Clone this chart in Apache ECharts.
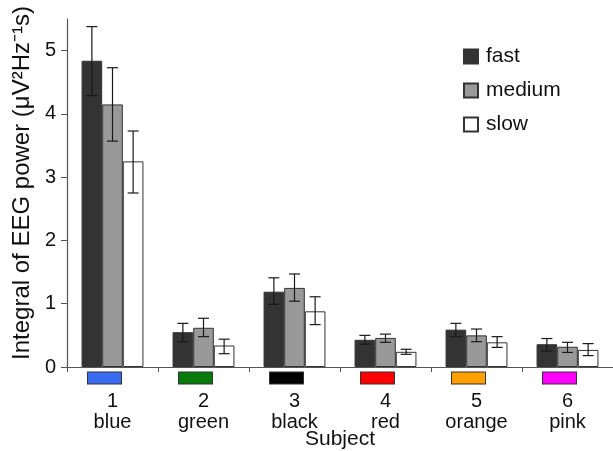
<!DOCTYPE html>
<html>
<head>
<meta charset="utf-8">
<script src="https://cdn.jsdelivr.net/npm/echarts@6/dist/echarts.min.js"></script>
<style>html,body{margin:0;padding:0;background:#fff;}#c{width:613px;height:451px;}</style>
</head>
<body>
<div id="c"></div>
<script>
const categories = ['1', '2', '3', '4', '5', '6'];
const colorNames = ['blue', 'green', 'black', 'red', 'orange', 'pink'];
const swatchColors = ['#3a6cf2', '#087a0c', '#000000', '#ff0000', '#ffa000', '#ff00ff'];
const seriesNames = ['fast', 'medium', 'slow'];
const yTicks = [0, 1, 2, 3, 4, 5];

const fastMean = [4.84, 0.55, 1.19, 0.43, 0.59, 0.36];
const fastLow = [4.29, 0.40, 0.99, 0.36, 0.48, 0.25];
const fastHigh = [5.38, 0.69, 1.41, 0.50, 0.69, 0.45];
const mediumMean = [4.15, 0.62, 1.25, 0.46, 0.50, 0.32];
const mediumLow = [3.57, 0.48, 1.04, 0.39, 0.40, 0.23];
const mediumHigh = [4.73, 0.77, 1.47, 0.52, 0.60, 0.39];
const slowMean = [3.25, 0.34, 0.88, 0.24, 0.39, 0.27];
const slowLow = [2.75, 0.21, 0.67, 0.20, 0.31, 0.18];
const slowHigh = [3.73, 0.44, 1.11, 0.28, 0.48, 0.37];

const means = [fastMean, mediumMean, slowMean];
const lows = [fastLow, mediumLow, slowLow];
const highs = [fastHigh, mediumHigh, slowHigh];
const fills = ['#333333', '#999999', '#ffffff'];
const CAT_GAP = 0.32;
const FONT = '"Liberation Sans", Arial, sans-serif';

const rich = {
  gap: { width: 16, height: 12, lineHeight: 12 },
  num: { fontSize: 20, lineHeight: 34, color: '#111', fontFamily: FONT },
  name: { fontSize: 20, lineHeight: 8, color: '#111', fontFamily: FONT }
};
swatchColors.forEach((c, i) => {
  rich['sw' + i] = { width: 33, height: 11, lineHeight: 12, backgroundColor: c, borderColor: '#333', borderWidth: 1 };
});

const chart = echarts.init(document.getElementById('c'), null, { renderer: 'canvas' });

const barSeries = seriesNames.map((n, k) => ({
  name: n,
  type: 'bar',
  data: means[k],
  barGap: '0%',
  barCategoryGap: (CAT_GAP * 100) + '%',
  itemStyle: { color: fills[k], borderColor: '#333', borderWidth: 1 },
  z: 2
}));

const errSeries = seriesNames.map((n, k) => ({
  type: 'custom',
  name: n + '_err',
  data: categories.map((c, i) => [i, lows[k][i], highs[k][i]]),
  z: 5,
  silent: true,
  renderItem: function (params, api) {
    const band = api.size([1, 0])[0];
    const bw = band * (1 - CAT_GAP) / 3;
    const off = (k - 1) * bw;
    const lo = api.coord([api.value(0), api.value(1)]);
    const hi = api.coord([api.value(0), api.value(2)]);
    const x = lo[0] + off;
    const cap = 5.5;
    const st = { stroke: '#1a1a1a', lineWidth: 1.2 };
    return {
      type: 'group',
      children: [
        { type: 'line', shape: { x1: x, y1: lo[1], x2: x, y2: hi[1] }, style: st },
        { type: 'line', shape: { x1: x - cap, y1: lo[1], x2: x + cap, y2: lo[1] }, style: st },
        { type: 'line', shape: { x1: x - cap, y1: hi[1], x2: x + cap, y2: hi[1] }, style: st }
      ]
    };
  }
}));

chart.setOption({
  animation: false,
  backgroundColor: '#ffffff',
  grid: { left: 67, right: 0, top: 19, bottom: 84, containLabel: false, outerBoundsMode: 'none' },
  legend: {
    data: seriesNames,
    orient: 'vertical',
    left: 458,
    top: 41,
    itemWidth: 14,
    itemHeight: 14,
    itemGap: 13,
    icon: 'rect',
    textStyle: { fontSize: 21, color: '#111', fontFamily: FONT, padding: [0, 0, 0, 3] }
  },
  xAxis: {
    type: 'category',
    data: categories,
    name: 'Subject',
    nameLocation: 'middle',
    nameGap: 62,
    nameMoveOverlap: false,
    nameTextStyle: { fontSize: 21, color: '#111', fontFamily: FONT },
    axisLine: { lineStyle: { color: '#555', width: 1.2 } },
    axisTick: { show: true, length: 5, interval: 0, alignWithLabel: false, lineStyle: { color: '#555' } },
    axisLabel: {
      interval: 0,
      margin: 5,
      formatter: function (v, i) {
        return '{sw' + i + '|}{gap|}\n{num|' + v + '}\n{name|' + colorNames[i] + '}';
      },
      rich: rich
    }
  },
  yAxis: {
    type: 'value',
    min: 0,
    max: 5.5,
    interval: 1,
    name: 'Integral of EEG power (μV²Hz⁻¹s)',
    nameLocation: 'middle',
    nameGap: 33,
    nameMoveOverlap: false,
    nameTextStyle: { fontSize: 24, color: '#111', fontFamily: FONT, padding: [0, 0, 0, 20] },
    splitLine: { show: false },
    axisLine: { show: true, lineStyle: { color: '#555', width: 1.2 } },
    axisTick: { show: true, length: 6, customValues: yTicks, lineStyle: { color: '#555' } },
    axisLabel: { customValues: yTicks, margin: 11, fontSize: 20, color: '#111', fontFamily: FONT }
  },
  series: barSeries.concat(errSeries)
});
</script>
</body>
</html>
